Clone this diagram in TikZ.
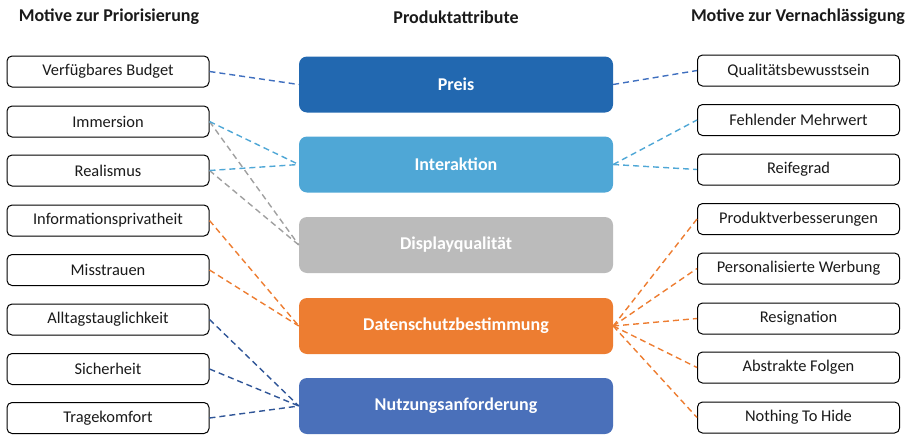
\documentclass[tikz,border=0pt]{standalone}
\usepackage{fontspec}
\setmainfont{Carlito}
\definecolor{cPreis}{HTML}{2268B0}
\definecolor{cPreisL}{HTML}{3F6FBF}
\definecolor{cInter}{HTML}{4FA7D6}
\definecolor{cDisp}{HTML}{BBBBBB}
\definecolor{cDispL}{HTML}{A0A0A0}
\definecolor{cDaten}{HTML}{ED7D31}
\definecolor{cNutz}{HTML}{4A70BA}
\definecolor{cNutzL}{HTML}{2F5597}
\definecolor{cText}{HTML}{1A1A1A}
\begin{document}
\begin{tikzpicture}[x=1pt,y=-1pt,
  motive/.style={draw=black, line width=1pt, rounded corners=5pt, minimum width=202pt, minimum height=31pt, fill=white, inner sep=0pt, text=cText, font=\fontsize{16.4}{18}\selectfont},
  attr/.style={rounded corners=8pt, minimum width=314pt, minimum height=56pt, inner sep=0pt, text=white, font=\bfseries\fontsize{18}{21}\selectfont},
  heading/.style={text=cText, font=\bfseries\fontsize{18}{21}\selectfont},
  link/.style={dash pattern=on 6pt off 4pt, line width=1.4pt}]
\useasboundingbox (0,0) rectangle (913,434);
% headings
\node[heading] (h1) at (109,17) {Motive zur Priorisierung};
\node[heading] (h2) at (456,17) {Produktattribute};
\node[heading] (h3) at (798,17) {Motive zur Vernachlässigung};
% attributes
\node[attr, fill=cPreis] (preis) at (456,84.5) {Preis};
\node[attr, fill=cInter] (inter) at (456,164.5) {Interaktion};
\node[attr, fill=cDisp] (disp) at (456,245) {Displayqualität};
\node[attr, fill=cDaten] (daten) at (456,326) {Datenschutzbestimmung};
\node[attr, fill=cNutz] (nutz) at (456,406) {Nutzungsanforderung};
% left motives
\node[motive] (l1) at (108,71.5) {Verfügbares Budget};
\node[motive] (l2) at (108,121.5) {Immersion};
\node[motive] (l3) at (108,170.5) {Realismus};
\node[motive] (l4) at (108,220.5) {Informationsprivatheit};
\node[motive] (l5) at (108,270) {Misstrauen};
\node[motive] (l6) at (108,319.5) {Alltagstauglichkeit};
\node[motive] (l7) at (108,369) {Sicherheit};
\node[motive] (l8) at (108,418) {Tragekomfort};
% right motives
\node[motive] (r1) at (798.5,70.5) {Qualitätsbewusstsein};
\node[motive] (r2) at (798.5,120) {Fehlender Mehrwert};
\node[motive] (r3) at (798.5,169.5) {Reifegrad};
\node[motive] (r4) at (798.5,219) {Produktverbesserungen};
\node[motive] (r5) at (798.5,268.5) {Personalisierte Werbung};
\node[motive] (r6) at (798.5,318.5) {Resignation};
\node[motive] (r7) at (798.5,367.5) {Abstrakte Folgen};
\node[motive] (r8) at (798.5,417.5) {Nothing To Hide};
% left connectors
\draw[link, cPreisL] (l1.east) -- (preis.west);
\draw[link, cDispL] (l2.east) -- (disp.west);
\draw[link, cDispL] (l3.east) -- (disp.west);
\draw[link, cInter] (l2.east) -- (inter.west);
\draw[link, cInter] (l3.east) -- (inter.west);
\draw[link, cDaten] (l4.east) -- (daten.west);
\draw[link, cDaten] (l5.east) -- (daten.west);
\draw[link, cNutzL] (l6.east) -- (nutz.west);
\draw[link, cNutzL] (l7.east) -- (nutz.west);
\draw[link, cNutzL] (l8.east) -- (nutz.west);
% right connectors
\draw[link, cPreisL] (preis.east) -- (r1.west);
\draw[link, cInter] (inter.east) -- (r2.west);
\draw[link, cInter] (inter.east) -- (r3.west);
\foreach \r in {r4,r5,r6,r7,r8} {
  \draw[link, cDaten] (daten.east) -- (\r.west);
}
\end{tikzpicture}
\end{document}
